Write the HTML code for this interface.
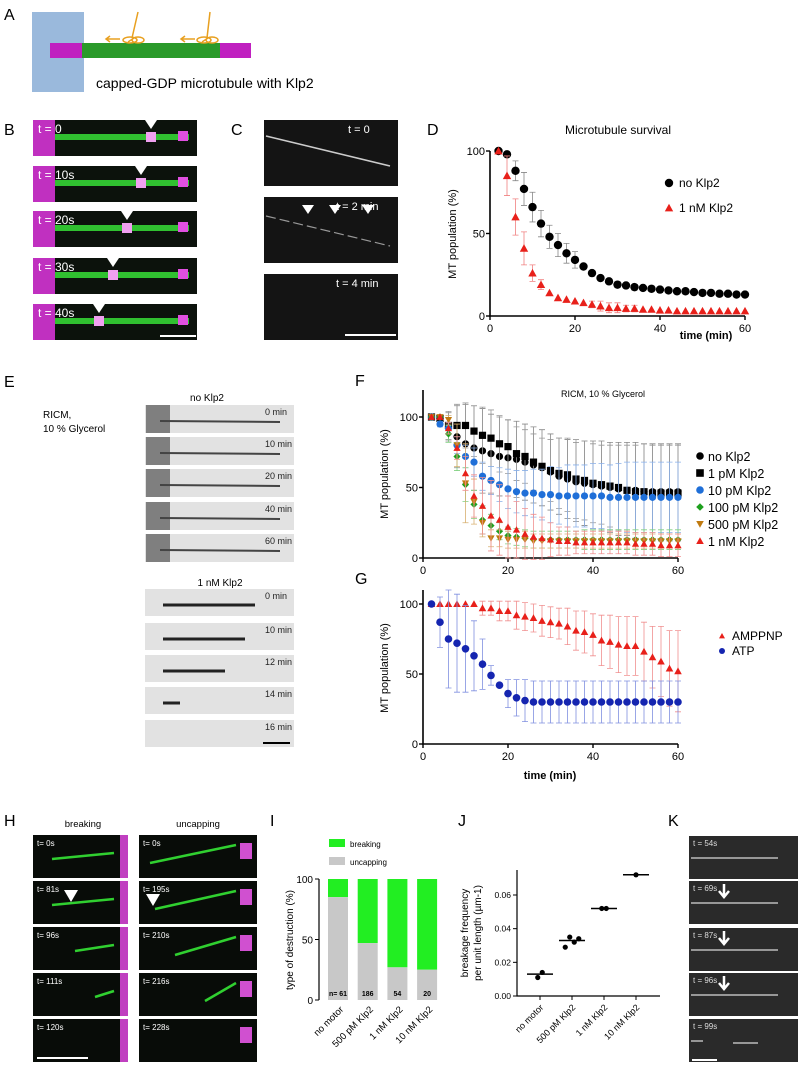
<!DOCTYPE html>
<html><head><meta charset="utf-8"><style>
body{margin:0;background:#fff;}
svg{display:block;font-family:"Liberation Sans",Arial,sans-serif;}
</style></head><body>
<svg id="fig" width="800" height="1066" viewBox="0 0 800 1066" xmlns="http://www.w3.org/2000/svg">
<g id="static" font-size="16">
<text x="4" y="20">A</text>
<text x="4" y="135">B</text>
<text x="231" y="135">C</text>
<text x="427" y="135">D</text>
<text x="4" y="387">E</text>
<text x="355" y="386">F</text>
<text x="355" y="584">G</text>
<text x="4" y="826">H</text>
<text x="270" y="826">I</text>
<text x="458" y="826">J</text>
<text x="668" y="826">K</text>
</g>
<g>
<rect x="32" y="12" width="52" height="80" fill="#9ab9dc"/>
<rect x="50" y="43" width="32" height="15" fill="#c020c0"/>
<rect x="82" y="43" width="138" height="15" fill="#2a9a2a"/>
<rect x="220" y="43" width="31" height="15" fill="#c020c0"/>
<g stroke="#e8a020" fill="none" stroke-width="1.5">
<path d="M138 12 L132 38 M134 38 l-6 4 M210 12 L207 38 M208 38 l-6 4"/>
<ellipse cx="130" cy="40" rx="7" ry="3"/><ellipse cx="138" cy="40" rx="6" ry="3"/>
<ellipse cx="204" cy="40" rx="7" ry="3"/><ellipse cx="212" cy="40" rx="6" ry="3"/>
<path d="M120 39 H106 M110 36 l-4 3 4 3 M195 39 H181 M185 36 l-4 3 4 3"/>
</g>
<text x="96" y="88" font-size="14">capped-GDP microtubule with Klp2</text>
</g>
<g id="imgs"></g>
<g id="chartD"></g><g id="chartF"></g><g id="chartG"></g><g id="chartI"></g><g id="chartJ"></g>
</svg>
<script>
// ---- data ----
const timesD = [2,4,6,8,10,12,14,16,18,20,22,24,26,28,30,32,34,36,38,40,42,44,46,48,50,52,54,56,58,60];
const dNoKlp2 = [100,98,88,77,66,56,48,43,38,34,30,26,23,21,19,18.5,17.5,17,16.5,16,15.5,15,15,14.5,14,14,13.5,13.5,13,13];
const dKlp2 = [100,85,60,41,26,19,14,11,10,9,8,7,6,5,5,4.5,4.5,4,4,3.5,3.5,3,3,3,3,3,3,3,3,3];
const dNoKlp2Err = [0,0,6,10,9,8,7,7,6,5,0,0,0,0,0,0,0,0,0,0,0,0,0,0,0,0,0,0,0,0];
const dKlp2Err = [0,12,11,10,5,3,0,0,0,0,0,2,3,3,3,2,2,0,0,0,0,0,0,0,0,0,0,0,0,0];
const xTicks = [0,20,40,60];
const yTicks = [0,50,100];
const fNo = [100,99,93,86,81,78,76,74,72,71,70,68,66,64,61,58,56,54,53,52,51,50,49,48,48,47,47,47,47,47];
const f1pM = [100,99,94,94,94,90,87,85,81,79,74,72,68,65,62,60,59,56,55,53,52,51,50,48,47,47,46,46,46,46];
const f10pM = [100,95,92,80,72,68,58,55,52,49,47,46,46,45,45,44,44,44,44,44,44,43,43,43,43,43,43,43,43,43];
const f100pM = [100,100,88,72,52,38,27,23,19,16,15,14,13,13,13,13,13,13,13,13,13,13,13,13,13,13,13,13,13,13];
const f500pM = [100,100,98,80,53,40,25,14,14,13,13,13,12,12,12,12,12,12,12,12,12,12,12,12,12,12,12,12,12,12];
const f1nM = [100,100,92,78,60,44,37,30,27,22,20,17,15,14,13,12,12,11,11,11,11,11,11,11,10,10,10,9,9,9];
const fErrNo = [0,2,10,22,28,30,30,28,28,27,27,27,27,27,27,27,28,28,30,31,32,32,33,34,34,34,34,34,34,34];
const fErr1pM = [0,2,10,15,16,18,20,20,20,19,19,19,20,20,22,25,26,28,28,28,28,29,30,32,33,34,34,34,34,34];
const fErr10pM = [0,2,4,6,8,10,10,10,12,14,15,16,17,18,20,20,22,22,22,23,23,23,24,25,25,25,25,25,25,25];
const fErr100pM = [0,0,6,10,12,10,10,8,6,6,6,6,6,6,6,6,6,6,7,7,7,7,7,7,7,7,7,7,7,7];
const fErr500pM = [0,0,3,15,28,16,10,6,6,6,6,6,5,5,5,5,5,5,5,5,5,5,5,5,5,5,5,5,5,5];
const fErr1nM = [0,0,4,8,12,15,20,25,25,22,20,18,16,15,12,10,10,8,8,8,8,8,8,8,8,8,8,8,8,8];
const gAmp = [100,100,100,100,100,100,97,97,95,95,92,91,90,88,87,86,84,81,80,78,74,73,71,70,70,66,62,59,54,52];
const gAtp = [100,87,75,72,68,63,57,49,42,36,33,31,30,30,30,30,30,30,30,30,30,30,30,30,30,30,30,30,30,30];
const gAmpErr = [0,0,0,0,0,0,5,5,7,7,10,10,10,11,11,11,13,14,15,15,18,19,20,21,21,21,22,25,27,29];
const gAtpErr = [0,18,35,35,31,25,18,7,0,10,13,15,15,15,15,15,15,15,15,15,15,15,15,15,15,15,15,15,15,15];
const iCats = ["no motor","500 pM Klp2","1 nM Klp2","10 nM Klp2"];
const iUncapping = [85,47,27,25];
const iN = ["n= 61","186","54","20"];
const jCats = ["no motor","500 pM Klp2","1 nM Klp2","10 nM Klp2"];
const jPoints = [[0.011,0.014],[0.029,0.035,0.032,0.034],[0.052,0.052],[0.072]];
const jMeans = [0.013,0.033,0.052,0.072];
const jTicks = [0,0.02,0.04,0.06];

const NS="http://www.w3.org/2000/svg";
function mk(parent,tag,attrs,txt){const e=document.createElementNS(NS,tag);for(const k in attrs)e.setAttribute(k,attrs[k]);if(txt!==undefined)e.textContent=txt;parent.appendChild(e);return e;}
function marker(g,shape,x,y,c,r){
  if(shape==='circle') return mk(g,'circle',{cx:x,cy:y,r:r,fill:c});
  if(shape==='square') return mk(g,'rect',{x:x-r,y:y-r,width:2*r,height:2*r,fill:c});
  if(shape==='diamond') return mk(g,'polygon',{points:`${x},${y-r} ${x+r},${y} ${x},${y+r} ${x-r},${y}`,fill:c});
  if(shape==='tri') return mk(g,'polygon',{points:`${x},${y-r} ${x+r},${y+r*0.8} ${x-r},${y+r*0.8}`,fill:c});
  if(shape==='tridown') return mk(g,'polygon',{points:`${x},${y+r} ${x+r},${y-r*0.8} ${x-r},${y-r*0.8}`,fill:c});
}
function axes(g,x0,x1,y0,y1,ytop,xt,yt,sx,sy,fs){
  const ax=mk(g,'path',{d:`M${x0} ${ytop} V${y0} H${x1}`,stroke:'#000','stroke-width':1.6,fill:'none'});
  
  
  xt.forEach(v=>{mk(g,'line',{x1:sx(v),x2:sx(v),y1:y0,y2:y0+4,stroke:'#000','stroke-width':1.4});
    const t=mk(g,'text',{x:sx(v),y:y0+16,'text-anchor':'middle','font-size':fs},v);
    
    });
  yt.forEach(v=>{mk(g,'line',{x1:x0-4,x2:x0,y1:sy(v),y2:sy(v),stroke:'#000','stroke-width':1.4});
    const t=mk(g,'text',{x:x0-5,y:sy(v)+4,'text-anchor':'end','font-size':fs},v);
    
    });
}
function series(g,times,vals,errs,sx,sy,shape,c,ec,r,name){
  const s=mk(g,'g',{});
  
  
  times.forEach((t,i)=>{const x=sx(t),e=errs[i];
    if(e>0){mk(s,'path',{d:`M${x} ${sy(vals[i]-e)} V${sy(vals[i]+e)} M${x-3} ${sy(vals[i]-e)} h6 M${x-3} ${sy(vals[i]+e)} h6`,stroke:ec,'stroke-width':0.8,fill:'none'});}
  });
  times.forEach((t,i)=>{const m=marker(s,shape,sx(t),sy(vals[i]),c,r);
    
    });
}
function ylab(g,x,y,txt,fs){const t=mk(g,'text',{x:x,y:y,'text-anchor':'middle','font-size':fs,transform:`rotate(-90 ${x} ${y})`},txt);
  
  }

// ---- D ----
(function(){const g=document.getElementById('chartD');
const sx=v=>490+v*(255/60), sy=v=>316-v*1.65;
axes(g,490,745,316,151,151,xTicks,yTicks,sx,sy,11);
series(g,timesD,dNoKlp2,dNoKlp2Err,sx,sy,'circle','#000','#888',4.2,'series-no-klp2');
series(g,timesD,dKlp2,dKlp2Err,sx,sy,'tri','#e8201a','#f08080',4.2,'series-1nm-klp2');
let t=mk(g,'text',{x:618,y:134,'text-anchor':'middle','font-size':12},'Microtubule survival');


ylab(g,456,234,'MT population (%)',11);
t=mk(g,'text',{x:706,y:339,'text-anchor':'middle','font-size':11,'font-weight':'bold'},'time (min)');


marker(g,'circle',669,183,'#000',4.2);marker(g,'tri',669,208,'#e8201a',4.2);
t=mk(g,'text',{x:679,y:187,'font-size':12},'no Klp2');


t=mk(g,'text',{x:679,y:212,'font-size':12},'1 nM Klp2');


})();

// ---- F ----
(function(){const g=document.getElementById('chartF');
const sx=v=>423+v*(255/60), sy=v=>558-v*1.41;
axes(g,423,678,558,417,390,xTicks,yTicks,sx,sy,11);
const S=[[fNo,fErrNo,'circle','#000','#888','series-no-klp2'],[f1pM,fErr1pM,'square','#000','#999','series-1pm-klp2'],[f10pM,fErr10pM,'circle','#1f6fd8','#8ab0e8','series-10pm-klp2'],[f100pM,fErr100pM,'diamond','#1ea01e','#80d080','series-100pm-klp2'],[f500pM,fErr500pM,'tridown','#c07a10','#d8b070','series-500pm-klp2'],[f1nM,fErr1nM,'tri','#e8201a','#f09090','series-1nm-klp2']];
S.forEach(s=>series(g,timesD,s[0],s[1],sx,sy,s[2],s[3],s[4],3.6,s[5]));
let t=mk(g,'text',{x:603,y:397,'text-anchor':'middle','font-size':9},'RICM, 10 % Glycerol');


ylab(g,388,474,'MT population (%)',11);
const names=['no Klp2','1 pM Klp2','10 pM Klp2','100 pM Klp2','500 pM Klp2','1 nM Klp2'];
names.forEach((n,i)=>{const y=456+i*17;marker(g,S[i][2],700,y,S[i][3],3.8);
  const e=mk(g,'text',{x:708,y:y+5,'font-size':12.5},n);
  
  });
})();

// ---- G ----
(function(){const g=document.getElementById('chartG');
const sx=v=>423+v*(255/60), sy=v=>744-v*1.4;
axes(g,423,678,744,604,590,xTicks,yTicks,sx,sy,11);
series(g,timesD,gAmp,gAmpErr,sx,sy,'tri','#e8201a','#f09090',3.8,'series-amppnp');
series(g,timesD,gAtp,gAtpErr,sx,sy,'circle','#1525b0','#8090e0',3.8,'series-atp');
ylab(g,388,668,'MT population (%)',11);
let t=mk(g,'text',{x:550,y:779,'text-anchor':'middle','font-size':11,'font-weight':'bold'},'time (min)');


marker(g,'tri',722,636,'#e8201a',3);marker(g,'circle',722,651,'#1525b0',3);
t=mk(g,'text',{x:732,y:640,'font-size':12},'AMPPNP');


t=mk(g,'text',{x:732,y:655,'font-size':12},'ATP');


})();

// ---- I ----
(function(){const g=document.getElementById('chartI');
const y0=1000,sy=v=>y0-v*1.21, cx=i=>338+i*29.7;
iCats.forEach((c,i)=>{
  const gr=mk(g,'rect',{x:cx(i)-10,y:sy(100),width:20,height:sy(iUncapping[i])-sy(100),fill:'#22ee22'});
  
  
  const gy=mk(g,'rect',{x:cx(i)-10,y:sy(iUncapping[i]),width:20,height:y0-sy(iUncapping[i]),fill:'#c8c8c8'});
  
  
  const n=mk(g,'text',{x:cx(i),y:996,'text-anchor':'middle','font-size':7,'font-weight':'bold'},iN[i]);
  
  
  const l=mk(g,'text',{x:cx(i)+6,y:1010,'text-anchor':'end','font-size':9.5,transform:`rotate(-45 ${cx(i)+6} 1010)`},c);
  
  
});
mk(g,'path',{d:`M319 ${sy(100)} V${y0}`,stroke:'#000','stroke-width':1.2});
yTicks.forEach(v=>{mk(g,'line',{x1:315,x2:319,y1:sy(v),y2:sy(v),stroke:'#000'});
  const t=mk(g,'text',{x:313,y:sy(v)+4,'text-anchor':'end','font-size':10},v);
  
  });
ylab(g,293,940,'type of destruction (%)',10);
mk(g,'rect',{x:329,y:839,width:16,height:8,fill:'#22ee22'});
mk(g,'rect',{x:329,y:857,width:16,height:8,fill:'#c8c8c8'});
let t=mk(g,'text',{x:350,y:847,'font-size':8},'breaking');


t=mk(g,'text',{x:350,y:865,'font-size':8},'uncapping');


})();

// ---- J ----
(function(){const g=document.getElementById('chartJ');
const y0=996, sy=v=>y0-v*(101/0.06), cx=i=>540+i*32;
mk(g,'path',{d:`M517 870 V${y0} H660`,stroke:'#000','stroke-width':1.2,fill:'none'});
jTicks.forEach(v=>{mk(g,'line',{x1:513,x2:517,y1:sy(v),y2:sy(v),stroke:'#000'});
  const t=mk(g,'text',{x:511,y:sy(v)+3,'text-anchor':'end','font-size':8.5},v.toFixed(2));
  
  });
jCats.forEach((c,i)=>{
  mk(g,'line',{x1:cx(i),x2:cx(i),y1:y0,y2:y0+4,stroke:'#000'});
  const m=mk(g,'line',{x1:cx(i)-13,x2:cx(i)+13,y1:sy(jMeans[i]),y2:sy(jMeans[i]),stroke:'#000','stroke-width':1.5});
  
  
  const pts=jPoints[i];
  pts.forEach((p,k)=>{const off=(k-(pts.length-1)/2)*4.5;
    const c=mk(g,'circle',{cx:cx(i)+off,cy:sy(p),r:2.6,fill:'#000'});
    
    });
  const l=mk(g,'text',{x:cx(i)+4,y:1008,'text-anchor':'end','font-size':9,transform:`rotate(-45 ${cx(i)+4} 1008)`},c);
  
  
});
ylab(g,468,933,'breakage frequency',10);
ylab(g,481,933,'per unit length (\u00b5m-1)',10);
})();

// ---- micrograph panels ----
(function(){const g=document.getElementById('imgs');
function panel(x,y,w,h,bg,name){const r=mk(g,'rect',{x:x,y:y,width:w,height:h,fill:bg});
  
  return r;}
function lbl(x,y,t,c,fs){const e=mk(g,'text',{x:x,y:y,fill:c,'font-size':fs},t);
  
  }
// B
const bY=[120,166,211,258,304],bT=['t = 0','t = 10s','t = 20s','t = 30s','t = 40s'],bA=[150,140,126,112,98];
bY.forEach((y,i)=>{panel(33,y,164,36,'#0c120c','frame-b');
  mk(g,'rect',{x:33,y:y,width:22,height:36,fill:'#c030c0'});
  mk(g,'rect',{x:55,y:y+14,width:134,height:6,fill:'#30c030'});
  mk(g,'rect',{x:178,y:y+11,width:10,height:10,fill:'#e050e0'});
  mk(g,'rect',{x:bA[i]-4,y:y+12,width:10,height:10,fill:'#f0a0f0'});
  mk(g,'polygon',{points:`${bA[i]-5},${y} ${bA[i]+7},${y} ${bA[i]+1},${y+9}`,fill:'#fff'});
  lbl(38,y+13,bT[i],'#fff',12);});
mk(g,'line',{x1:160,x2:196,y1:336,y2:336,stroke:'#fff','stroke-width':2});
// C
const cY=[120,197,274],cT=['t = 0','t = 2 min','t = 4 min'];
cY.forEach((y,i)=>{panel(264,y,134,66,'#141414','frame-c');lbl(i===0?348:336,y+13,cT[i],'#fff',11);});
mk(g,'path',{d:'M266 136 L390 166',stroke:'#ccc','stroke-width':1.5});
mk(g,'path',{d:'M266 216 L390 246',stroke:'#999','stroke-width':1.2,'stroke-dasharray':'10 4'});
[308,335,368].forEach(x=>mk(g,'polygon',{points:`${x-6},205 ${x+6},205 ${x},214`,fill:'#fff'}));
mk(g,'line',{x1:345,x2:396,y1:335,y2:335,stroke:'#fff','stroke-width':2});
// E
let t=mk(g,'text',{x:43,y:418,'font-size':10},'RICM,');


t=mk(g,'text',{x:43,y:432,'font-size':10},'10 % Glycerol');


t=mk(g,'text',{x:207,y:401,'text-anchor':'middle','font-size':10},'no Klp2');


t=mk(g,'text',{x:220,y:586,'text-anchor':'middle','font-size':10},'1 nM Klp2');


const e1=[405,437,469,502,534],e1T=['0 min','10 min','20 min','40 min','60 min'];
e1.forEach((y,i)=>{panel(145,y,149,28,'#e2e2e2','frame-e-no-klp2');
  mk(g,'rect',{x:146,y:y,width:24,height:28,fill:'#555','opacity':0.7});
  mk(g,'line',{x1:160,x2:280,y1:y+16,y2:y+17,stroke:'#444','stroke-width':2});
  lbl(265,y+10,e1T[i],'#222',9);});
const e2=[589,623,655,687,720],e2T=['0 min','10 min','12 min','14 min','16 min'],e2L=[255,245,225,180,0];
e2.forEach((y,i)=>{panel(145,y,149,27,'#e2e2e2','frame-e-1nm-klp2');
  if(e2L[i])mk(g,'line',{x1:163,x2:e2L[i],y1:y+16,y2:y+16,stroke:'#222','stroke-width':3});
  lbl(265,y+10,e2T[i],'#222',9);});
mk(g,'line',{x1:263,x2:290,y1:743,y2:743,stroke:'#000','stroke-width':2});
// H
t=mk(g,'text',{x:83,y:827,'text-anchor':'middle','font-size':9.5},'breaking');


t=mk(g,'text',{x:198,y:827,'text-anchor':'middle','font-size':9.5},'uncapping');


const hY=[835,881,927,973,1019],hB=['t= 0s','t= 81s','t= 96s','t= 111s','t= 120s'],hU=['t= 0s','t= 195s','t= 210s','t= 216s','t= 228s'];
const hBl=[52,52,75,95,0],hUl=[150,155,175,205,0];
hY.forEach((y,i)=>{panel(33,y,95,43,'#080c08','frame-h-breaking');panel(139,y,118,43,'#080c08','frame-h-uncapping');
  mk(g,'rect',{x:120,y:y,width:8,height:43,fill:'#c040c0'});mk(g,'rect',{x:240,y:y+8,width:12,height:16,fill:'#d050d0'});
  if(hBl[i])mk(g,'line',{x1:hBl[i],x2:114,y1:y+24,y2:y+18,stroke:'#30d030','stroke-width':2.5});
  if(hUl[i])mk(g,'line',{x1:hUl[i],x2:236,y1:y+28,y2:y+10,stroke:'#30d030','stroke-width':2.5});
  lbl(37,y+11,hB[i],'#fff',8);lbl(143,y+11,hU[i],'#fff',8);});
mk(g,'polygon',{points:'64,890 78,890 71,902',fill:'#fff'});
mk(g,'polygon',{points:'146,894 160,894 153,906',fill:'#fff'});
mk(g,'line',{x1:37,x2:88,y1:1058,y2:1058,stroke:'#fff','stroke-width':2});
// K
const kY=[836,881,928,973,1019],kT=['t = 54s','t = 69s','t = 87s','t = 96s','t = 99s'];
kY.forEach((y,i)=>{panel(689,y,109,43,'#2a2a2a','frame-k');
  if(i<4)mk(g,'line',{x1:691,x2:778,y1:y+22,y2:y+22,stroke:'#bbb','stroke-width':1.5});
  else{mk(g,'line',{x1:691,x2:703,y1:y+22,y2:y+22,stroke:'#bbb','stroke-width':1.5});mk(g,'line',{x1:733,x2:758,y1:y+24,y2:y+24,stroke:'#bbb','stroke-width':1.5});}
  if(i>0&&i<4)mk(g,'path',{d:`M724 ${y+3} V${y+14} M719 ${y+10} l5 6 5 -6`,stroke:'#fff','stroke-width':2.5,fill:'none'});
  lbl(693,y+10,kT[i],'#ddd',8);});
mk(g,'line',{x1:692,x2:717,y1:1060,y2:1060,stroke:'#fff','stroke-width':2});
})();
</script>
</body></html>
